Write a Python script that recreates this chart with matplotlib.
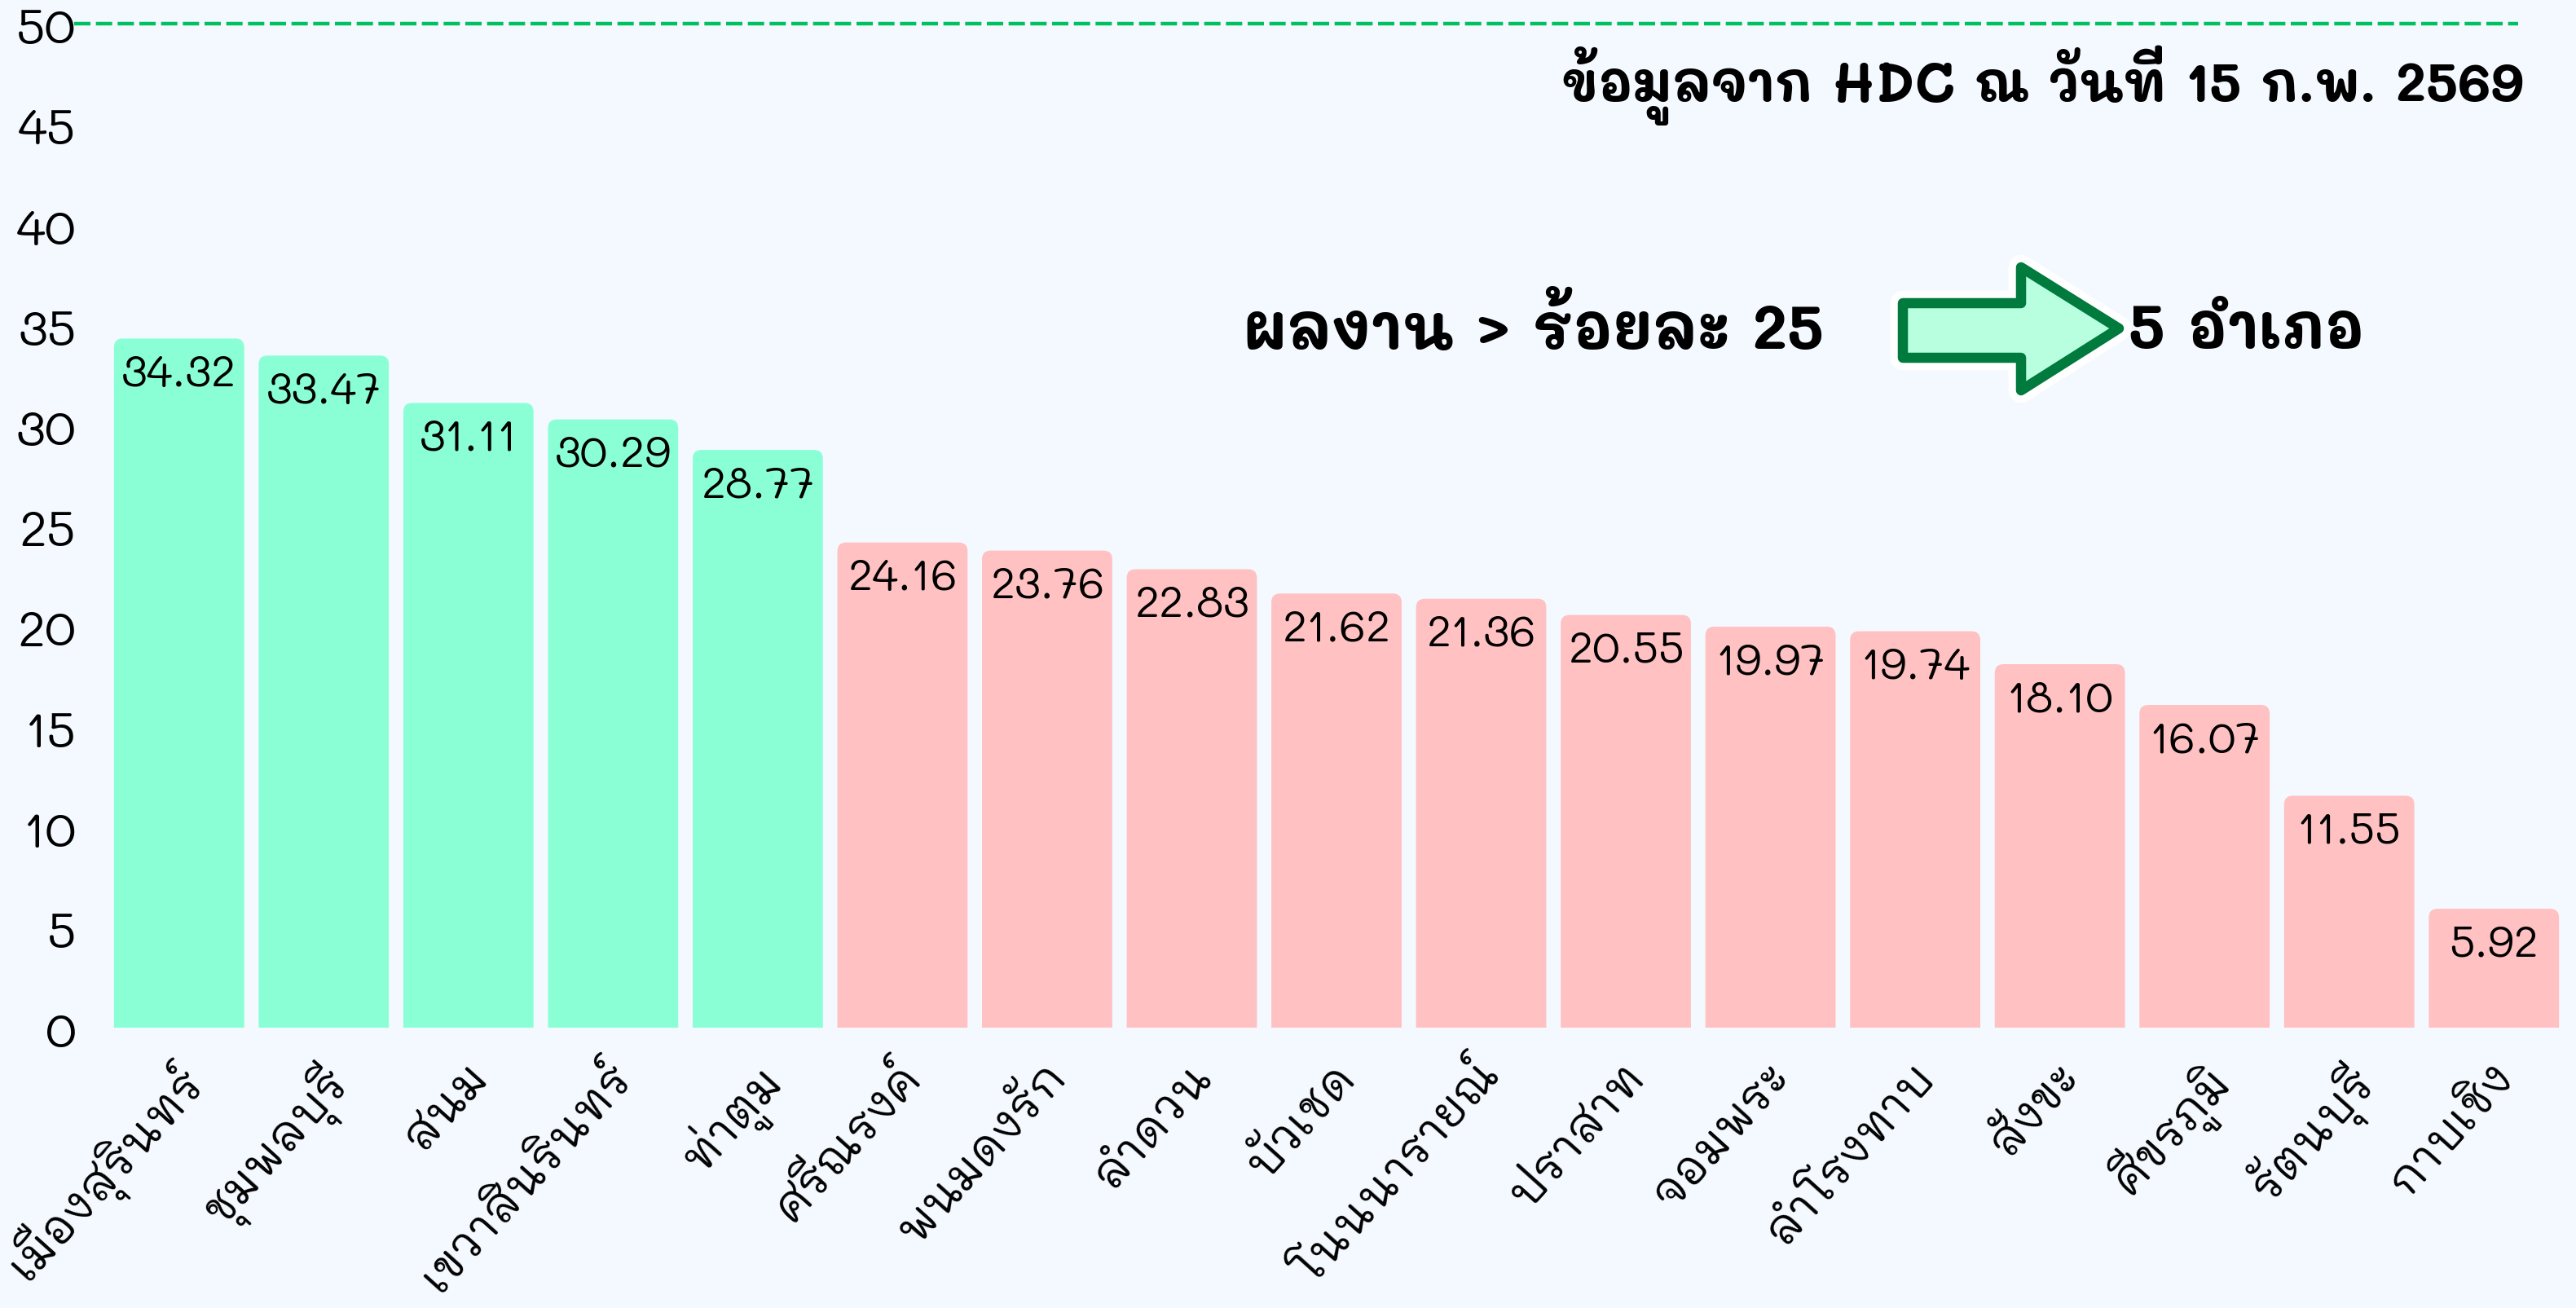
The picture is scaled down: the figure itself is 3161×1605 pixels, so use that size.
import matplotlib
matplotlib.use("Agg")
import matplotlib.pyplot as plt
from matplotlib.patches import FancyBboxPatch, Polygon
import matplotlib.patheffects as pe
import matplotlib.transforms as mtransforms

# Data
districts = ["เมืองสุรินทร์", "ชุมพลบุรี", "สนม", "เขวาสินรินทร์", "ท่าตูม",
             "ศรีณรงค์", "พนมดงรัก", "ลำดวน", "บัวเชด", "โนนนารายณ์",
             "ปราสาท", "จอมพระ", "ลำโรงทาบ", "สังขะ", "ศีขรภูมิ",
             "รัตนบุรี", "กาบเชิง"]
values = [34.32, 33.47, 31.11, 30.29, 28.77, 24.16, 23.76, 22.83, 21.62,
          21.36, 20.55, 19.97, 19.74, 18.10, 16.07, 11.55, 5.92]
threshold = 25
target = 50
yticks = list(range(0, 51, 5))
note_text = "ข้อมูลจาก HDC ณ วันที่ 15 ก.พ. 2569"
left_text = "ผลงาน > ร้อยละ 25"
right_text = "5 อำเภอ"

plt.rcParams["font.family"] = ["Mali", "DejaVu Sans"]

bg = "#F4F9FF"
green = "#8AFFD5"
pink = "#FFC1C1"

W, H = 3161, 1606
fig = plt.figure(figsize=(W / 100, H / 100), dpi=100, facecolor=bg)
ax = fig.add_axes([131 / W, 1 - 1262 / H, (3149 - 131) / W, (1262 - 30) / H])
ax.set_facecolor(bg)

x = list(range(len(values)))
colors = [green if v > threshold else pink for v in values]
bars = ax.bar(x, values, width=0.9, color="none")
for b, c in zip(bars, colors):
    bx, by = b.get_x(), b.get_y()
    bw, bh = b.get_width(), b.get_height()
    # rounded top corners; the bottom part falls below y=0 and is clipped
    p = FancyBboxPatch((bx, by - 2), bw, bh + 2,
                       boxstyle="round,pad=0,rounding_size=0.06",
                       mutation_aspect=7.2, fc=c, ec="none")
    ax.add_patch(p)
    ax.text(bx + bw / 2, bh - 0.6, f"{bh:.2f}", ha="center", va="top",
            fontsize=39)

ax.set_xlim(-0.5, len(values) - 0.5)
ax.set_ylim(0, target)
ax.set_yticks(yticks)
ax.tick_params(axis="y", length=0, labelsize=44, pad=27)
ax.tick_params(axis="x", length=0, pad=22)
ax.set_xticks(x)
ax.set_xticklabels(districts, rotation=48, ha="right", rotation_mode="anchor",
                   fontsize=41)
shift = mtransforms.ScaledTranslation(-8 / 100, 0, fig.dpi_scale_trans)
for lbl in ax.get_xticklabels():
    lbl.set_transform(lbl.get_transform() + shift)
for s in ax.spines.values():
    s.set_visible(False)

ax.plot([-0.725, 16.17], [target, target], color="#00C060", lw=3.2,
        dashes=(4.5, 1.5), clip_on=False)

fig.text(3097 / W, 1 - 105 / H, note_text, ha="right", va="center",
         fontsize=48, fontweight="bold")
fig.text(2238 / W, 1 - 407 / H, left_text, ha="right", va="center",
         fontsize=55, fontweight="bold")
fig.text(2612 / W, 1 - 407 / H, right_text, ha="left", va="center",
         fontsize=55, fontweight="bold")

arrow_px = [(2335, 373), (2480, 373), (2480, 329), (2600, 404),
            (2480, 480), (2480, 440), (2335, 440)]
arrow = Polygon([(px / W, 1 - py / H) for px, py in arrow_px], closed=True,
                transform=fig.transFigure, fc="#B8FFE0", ec="#007A3D", lw=9,
                joinstyle="round")
arrow.set_path_effects([pe.Stroke(linewidth=22, foreground="white"), pe.Normal()])
fig.patches.append(arrow)

fig.savefig("out.png", dpi=100, facecolor=bg)
